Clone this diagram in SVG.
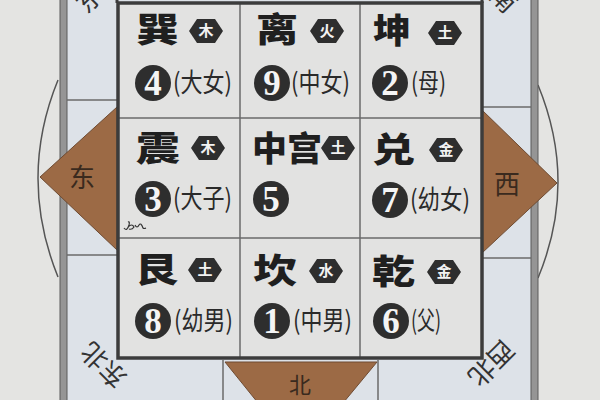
<svg xmlns="http://www.w3.org/2000/svg" width="600" height="400" viewBox="0 0 600 400">
<style>
.title{font-family:"Noto Sans CJK SC","Noto Sans CJK TC",sans-serif;font-weight:900;font-size:34px;fill:#1f1f1f}
.el{font-family:"Noto Sans CJK SC",sans-serif;font-weight:700;font-size:15px;fill:#f2f2f2;text-anchor:middle}
.num{font-family:"Liberation Serif",serif;font-weight:700;font-size:35px;fill:#f4f4f4;text-anchor:middle}
.rel{font-family:"Noto Sans CJK SC",sans-serif;font-size:26px;fill:#2a2a2a}
.dir{font-family:"Noto Sans CJK SC",sans-serif;font-size:26px;fill:#3a2a1e;text-anchor:middle}
.corner{font-family:"Noto Sans CJK SC",sans-serif;font-size:26px;fill:#333;text-anchor:middle}
.hex{fill:#2e2e2e}
.dot{fill:#2e2e2e}
.tri{fill:#9c6a45;stroke:#6e4b32;stroke-width:1}
.thin{stroke:#6a6a6a;stroke-width:1.5;fill:none}
.arc{stroke:#555;stroke-width:1.5;fill:none}
</style>
<defs>
<path id="hx" d="M-17,0 L-9,-12 L9,-12 L17,0 L9,12 L-9,12 Z"/>
</defs>
<rect x="0" y="0" width="600" height="400" fill="#e4e4e2"/>
<g id="ring">
<rect x="67" y="0" width="464" height="400" fill="#dde2e8"/>
<path class="arc" d="M58,80 Q18,178 58,277"/>
<path class="arc" d="M538,85 Q578,182 538,278"/>
<rect x="60" y="-2" width="7" height="404" fill="#959595" stroke="#5a5a5a" stroke-width="1"/>
<rect x="531" y="-2" width="7" height="404" fill="#959595" stroke="#5a5a5a" stroke-width="1"/>
<line class="thin" x1="67" y1="100" x2="117" y2="100"/>
<line class="thin" x1="67" y1="255" x2="117" y2="255"/>
<line class="thin" x1="482" y1="107" x2="531" y2="107"/>
<line class="thin" x1="482" y1="258" x2="531" y2="258"/>
<line class="thin" x1="223" y1="360" x2="223" y2="400"/>
<line class="thin" x1="378" y1="360" x2="378" y2="400"/>
</g>
<g id="east">
<polygon class="tri" points="117,107 40,177 117,250"/>
<text class="dir" x="82" y="187">东</text>
</g>
<g id="west">
<polygon class="tri" points="482,110 557,183 482,253"/>
<text class="dir" x="507" y="194">西</text>
</g>
<g id="north">
<polygon class="tri" points="225,362 377,362 300,455"/>
<text class="dir" x="300" y="393" style="font-size:22px">北</text>
</g>
<g id="corners">
<text class="corner" transform="translate(99,-10) rotate(-45)" y="9">东南</text>
<text class="corner" transform="translate(494,-10) rotate(45)" y="9">西南</text>
<text class="corner" transform="translate(104,365) rotate(-135)" y="9">东北</text>
<text class="corner" transform="translate(491,363) rotate(135)" y="9">西北</text>
</g>
<g id="grid">
<rect x="118" y="3" width="364" height="355" fill="#e2e2e1"/>
<line class="thin" x1="240" y1="3" x2="240" y2="358"/>
<line class="thin" x1="360" y1="3" x2="360" y2="358"/>
<line class="thin" x1="118" y1="118" x2="482" y2="118"/>
<line class="thin" x1="118" y1="238" x2="482" y2="238"/>
<rect x="118" y="3" width="364" height="355" fill="none" stroke="#3c3c3c" stroke-width="3.5"/>
<line x1="117" y1="-2" x2="117" y2="3" stroke="#3c3c3c" stroke-width="3"/>
<line x1="482" y1="-2" x2="482" y2="3" stroke="#3c3c3c" stroke-width="3"/>
</g>
<g id="xun">
<text class="title" x="136" y="42" textLength="43" lengthAdjust="spacingAndGlyphs">巽</text>
<use href="#hx" class="hex" x="206" y="31"/><text class="el" x="206" y="36">木</text>
<circle class="dot" cx="153" cy="83" r="18"/><text class="num" x="153" y="95">4</text>
<text class="rel" x="173" y="92" textLength="59" lengthAdjust="spacingAndGlyphs">(大女)</text>
</g>
<g id="li">
<text class="title" x="256" y="42" textLength="42" lengthAdjust="spacingAndGlyphs">离</text>
<use href="#hx" class="hex" x="327" y="31"/><text class="el" x="327" y="36">火</text>
<circle class="dot" cx="272" cy="83" r="18"/><text class="num" x="272" y="95">9</text>
<text class="rel" x="291" y="92" textLength="59" lengthAdjust="spacingAndGlyphs">(中女)</text>
</g>
<g id="kun">
<text class="title" x="373" y="43" textLength="38" lengthAdjust="spacingAndGlyphs">坤</text>
<use href="#hx" class="hex" x="445" y="33"/><text class="el" x="445" y="38">土</text>
<circle class="dot" cx="390" cy="83" r="18"/><text class="num" x="390" y="95">2</text>
<text class="rel" x="411" y="92" textLength="35" lengthAdjust="spacingAndGlyphs">(母)</text>
</g>
<g id="zhen">
<text class="title" x="136" y="161" textLength="44" lengthAdjust="spacingAndGlyphs">震</text>
<use href="#hx" class="hex" x="208" y="148"/><text class="el" x="208" y="153">木</text>
<circle class="dot" cx="153" cy="199" r="18"/><text class="num" x="153" y="211">3</text>
<text class="rel" x="173" y="208" textLength="59" lengthAdjust="spacingAndGlyphs">(大子)</text>
</g>
<g id="zhonggong">
<text class="title" x="252" y="161" textLength="70" lengthAdjust="spacingAndGlyphs">中宫</text>
<use href="#hx" class="hex" x="338" y="148"/><text class="el" x="338" y="153">土</text>
<circle class="dot" cx="271" cy="199" r="18"/><text class="num" x="271" y="211">5</text>
</g>
<g id="dui">
<text class="title" x="372" y="162" textLength="43" lengthAdjust="spacingAndGlyphs">兑</text>
<use href="#hx" class="hex" x="446" y="150"/><text class="el" x="446" y="155">金</text>
<circle class="dot" cx="390" cy="200" r="18"/><text class="num" x="390" y="212">7</text>
<text class="rel" x="410" y="209" textLength="60" lengthAdjust="spacingAndGlyphs">(幼女)</text>
</g>
<g id="gen">
<text class="title" x="135" y="282" textLength="43" lengthAdjust="spacingAndGlyphs">艮</text>
<use href="#hx" class="hex" x="205" y="270"/><text class="el" x="205" y="275">土</text>
<circle class="dot" cx="153" cy="321" r="18"/><text class="num" x="153" y="333">8</text>
<text class="rel" x="174" y="330" textLength="59" lengthAdjust="spacingAndGlyphs">(幼男)</text>
</g>
<g id="kan">
<text class="title" x="253" y="283" textLength="44" lengthAdjust="spacingAndGlyphs">坎</text>
<use href="#hx" class="hex" x="326" y="271"/><text class="el" x="326" y="276">水</text>
<circle class="dot" cx="272" cy="321" r="18"/><text class="num" x="272" y="333">1</text>
<text class="rel" x="293" y="330" textLength="59" lengthAdjust="spacingAndGlyphs">(中男)</text>
</g>
<g id="qian">
<text class="title" x="372" y="284" textLength="43" lengthAdjust="spacingAndGlyphs">乾</text>
<use href="#hx" class="hex" x="444" y="272"/><text class="el" x="444" y="277">金</text>
<circle class="dot" cx="391" cy="321" r="18"/><text class="num" x="391" y="333">6</text>
<text class="rel" x="411" y="330" textLength="30" lengthAdjust="spacingAndGlyphs">(父)</text>
</g>
<path d="M124,228 q3,4 5,-3 q1,-4 -1,-3 M128,227 q4,-4 6,0 q-2,3 -5,2 M135,225 q2,4 4,0 q2,-3 4,3 q1,1 3,0" fill="none" stroke="#333" stroke-width="1.2"/>
</svg>
